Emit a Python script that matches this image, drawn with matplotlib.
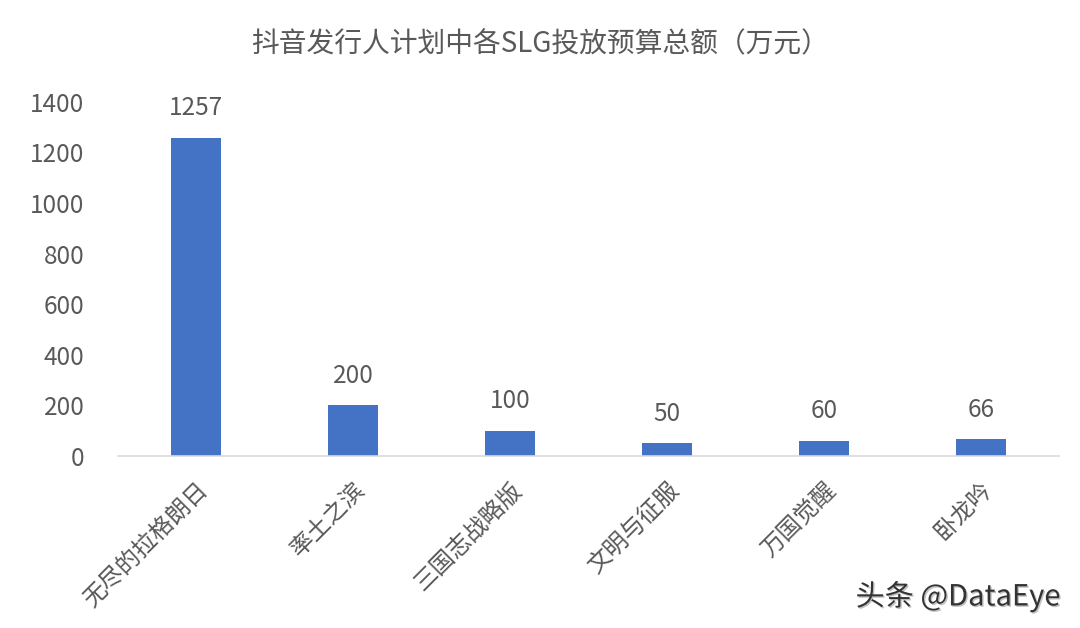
import matplotlib
matplotlib.use("Agg")
import matplotlib.pyplot as plt
import matplotlib.patheffects as pe

plt.rcParams['font.family'] = ['Noto Sans CJK SC', 'DejaVu Sans']

games = ["无尽的拉格朗日", "率土之滨", "三国志战略版", "文明与征服", "万国觉醒", "卧龙吟"]
budget = [1257, 200, 100, 50, 60, 66]
yticks = [0, 200, 400, 600, 800, 1000, 1200, 1400]

grey = "#595959"
blue = "#4472C4"

fig = plt.figure(figsize=(10.8, 6.28), dpi=100)
ax = fig.add_axes([0.109, 0.274, 0.872, 0.564])

x = range(len(games))
bars = ax.bar(x, budget, width=0.32, color=blue, zorder=2)
for b, v in zip(bars, budget):
    ax.text(b.get_x() + b.get_width() / 2, v + 66, str(v), ha="center", va="bottom",
            fontsize=17.5, color=grey)

ax.set_xlim(-0.5, len(games) - 0.5)
ax.set_ylim(0, 1400)
ax.set_yticks(yticks)
ax.set_yticklabels([str(t) for t in yticks], fontsize=17.5, color=grey)
ax.set_xticks(list(x))
ax.set_xticklabels(games, rotation=45, ha="right", rotation_mode="anchor",
                   fontsize=17, color=grey)
ax.tick_params(axis="both", length=0)
ax.tick_params(axis="y", pad=24)
ax.tick_params(axis="x", pad=16)

for s in ["top", "right", "left"]:
    ax.spines[s].set_visible(False)
ax.spines["bottom"].set_color("#D9D9D9")
ax.spines["bottom"].set_linewidth(1.2)

fig.text(0.5, 0.93, "抖音发行人计划中各SLG投放预算总额（万元）", ha="center", va="center",
         fontsize=20, color=grey)

fig.text(0.982, 0.05, "头条 @DataEye", ha="right", va="center", fontsize=21,
         color="#333333",
         path_effects=[pe.withSimplePatchShadow(offset=(1, -1), shadow_rgbFace="#999999", alpha=0.6)])

fig.savefig("out.png", dpi=100, facecolor="white")
